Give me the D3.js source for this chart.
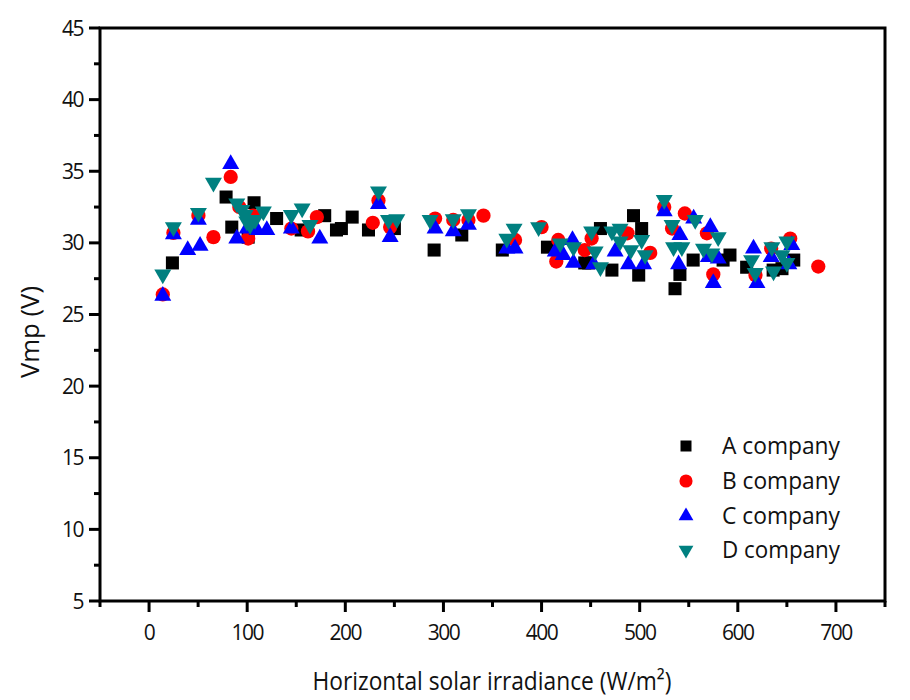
<!DOCTYPE html>
<html>
<head>
<meta charset="utf-8">
<script src="https://cdn.jsdelivr.net/npm/d3@7"></script>
<style>
  html, body { margin: 0; padding: 0; background: #fff; }
  svg text { font-family: "Open Sans", "DejaVu Sans", sans-serif; fill: #111; }
</style>
</head>
<body>
<svg id="chart" width="910" height="700"></svg>
<script>
// ---------- data ----------
const seriesNames = ["A company", "B company", "C company", "D company"];
const seriesColors = ["#000000", "#ff0000", "#0000ff", "#008080"];

const aX = [23.8, 78.5, 84.3, 101, 107, 130, 155, 179, 191, 196, 207, 223.6, 250, 290.5, 318.7, 360, 406, 444, 448, 460, 471.7, 493.7, 502, 499, 536, 541, 554.5, 585, 592, 609, 636, 645, 657];
const aY = [28.6, 33.2, 31.1, 30.4, 32.8, 31.7, 30.9, 31.9, 30.9, 31.0, 31.8, 30.9, 31.0, 29.5, 30.55, 29.5, 29.7, 28.6, 28.6, 31.0, 28.1, 31.9, 31.0, 27.75, 26.8, 27.8, 28.8, 28.8, 29.15, 28.3, 28.1, 28.2, 28.8];

const bX = [14, 24.8, 50.3, 65.6, 83.2, 92, 101, 106, 145, 162, 171, 228, 233.8, 245.7, 291.5, 310, 325.5, 340.8, 373, 400, 415, 417, 444, 451, 487.6, 510.7, 525, 533, 546, 568.5, 575, 618, 634, 653.4, 682];
const bY = [26.4, 30.7, 31.9, 30.4, 34.6, 32.5, 30.3, 31.9, 31.0, 30.8, 31.8, 31.4, 32.95, 31.1, 31.7, 31.6, 31.6, 31.9, 30.2, 31.1, 28.7, 30.2, 29.5, 30.3, 30.67, 29.3, 32.5, 31.0, 32.05, 30.67, 27.8, 27.75, 29.6, 30.3, 28.35];

const cX = [14, 24.8, 39.4, 50.3, 52, 83.2, 89.4, 100, 110, 120, 145, 174, 233.8, 245.7, 291.5, 310, 325.5, 364.6, 373, 414, 422, 431.5, 432.5, 453, 475, 488.6, 504, 525, 539.6, 541, 555, 570, 572, 575, 580, 616, 619.5, 634, 652, 655];
const cY = [26.3, 30.6, 29.5, 31.6, 29.8, 35.5, 30.3, 31.0, 30.9, 30.9, 31.0, 30.3, 32.7, 30.4, 31.0, 30.8, 31.25, 29.6, 29.6, 29.4, 29.15, 30.2, 28.6, 28.5, 29.4, 28.5, 28.5, 32.2, 28.5, 30.55, 31.7, 29.0, 31.1, 27.2, 28.9, 29.6, 27.2, 29.0, 28.5, 29.85];

const dX = [14, 24.8, 50.3, 65.6, 89.4, 94.5, 97.9, 99.6, 103, 108, 116.5, 145, 156, 164, 233.8, 244, 252.5, 286.4, 310, 325.5, 364.6, 372, 397, 419, 432.5, 451, 454.6, 460, 471.7, 480, 480, 491, 502, 505.6, 525, 533, 534.5, 543, 556.6, 565, 573.6, 580, 614, 617.7, 634.7, 636.4, 645, 650, 650];
const dY = [27.8, 31.1, 32.1, 34.2, 32.75, 32.3, 31.95, 31.5, 31.25, 31.6, 32.2, 31.95, 32.4, 31.25, 33.6, 31.6, 31.65, 31.6, 31.65, 32.0, 30.3, 31.0, 31.1, 29.97, 29.7, 30.8, 29.4, 28.3, 30.8, 31.0, 30.1, 29.5, 30.2, 29.15, 33.0, 31.25, 29.7, 29.7, 31.6, 29.6, 29.27, 30.4, 28.8, 27.9, 29.7, 28.0, 29.15, 30.1, 28.6];

const xTicks = [0, 100, 200, 300, 400, 500, 600, 700];
const yTicks = [5, 10, 15, 20, 25, 30, 35, 40, 45];
const xTitle = "Horizontal solar irradiance (W/m\u00B2)";
const yTitle = "Vmp (V)";

// ---------- layout ----------
const svg = d3.select("#chart");
const L = 100, R = 885, T = 28, B = 601;
const x = d3.scaleLinear().domain([-50, 750]).range([L, R]);
const y = d3.scaleLinear().domain([5, 45]).range([B, T]);

// frame
svg.append("rect").attr("x", L).attr("y", T).attr("width", R - L).attr("height", B - T)
  .attr("fill", "none").attr("stroke", "#000").attr("stroke-width", 3);

// x axis
const xMinor = d3.range(-50, 751, 100);
const gx = svg.append("g");
gx.selectAll("line.maj").data(xTicks).join("line")
  .attr("x1", d => x(d)).attr("x2", d => x(d)).attr("y1", B).attr("y2", B + 11)
  .attr("stroke", "#000").attr("stroke-width", 3);
gx.selectAll("line.min").data(xMinor).join("line")
  .attr("x1", d => x(d)).attr("x2", d => x(d)).attr("y1", B).attr("y2", B + 6)
  .attr("stroke", "#000").attr("stroke-width", 3);
gx.selectAll("text").data(xTicks).join("text")
  .attr("x", d => x(d)).attr("y", B + 39)
  .attr("text-anchor", "middle").attr("font-size", 21).attr("letter-spacing", -1.5)
  .text(d => d);

// y axis
const yMinor = d3.range(7.5, 45, 5);
const gy = svg.append("g");
gy.selectAll("line.maj").data(yTicks).join("line")
  .attr("x1", L - 11).attr("x2", L).attr("y1", d => y(d)).attr("y2", d => y(d))
  .attr("stroke", "#000").attr("stroke-width", 3);
gy.selectAll("line.min").data(yMinor).join("line")
  .attr("x1", L - 6).attr("x2", L).attr("y1", d => y(d)).attr("y2", d => y(d))
  .attr("stroke", "#000").attr("stroke-width", 3);
gy.selectAll("text").data(yTicks).join("text")
  .attr("x", L - 17).attr("y", d => y(d) + 7.5)
  .attr("text-anchor", "end").attr("font-size", 21).attr("letter-spacing", -1.5)
  .text(d => d);

// axis titles
svg.append("text").attr("x", 492).attr("y", 690)
  .attr("text-anchor", "middle").attr("font-size", 25)
  .attr("textLength", 359).attr("lengthAdjust", "spacingAndGlyphs")
  .text(xTitle);

svg.append("text").attr("transform", "translate(39,332) rotate(-90)")
  .attr("text-anchor", "middle").attr("font-size", 25)
  .attr("textLength", 92).attr("lengthAdjust", "spacingAndGlyphs")
  .text(yTitle);

// markers
const symSquare = d3.symbol().type(d3.symbolSquare).size(170);
const symCircle = d3.symbol().type(d3.symbolCircle).size(160);
const symTri = d3.symbol().type(d3.symbolTriangle).size(125);
const shapes = [
  {p: symSquare(), rot: 0},
  {p: symCircle(), rot: 0},
  {p: symTri(), rot: 0},
  {p: symTri(), rot: 180}
];
const allSeries = [[aX, aY], [bX, bY], [cX, cY], [dX, dY]];
allSeries.forEach(([xs, ys], i) => {
  const pts = xs.map((v, k) => [v, ys[k]]);
  svg.append("g").selectAll("path").data(pts).join("path")
    .attr("d", shapes[i].p)
    .attr("transform", d => `translate(${x(d[0])},${y(d[1])}) rotate(${shapes[i].rot})`)
    .attr("fill", seriesColors[i]);
});

// legend
const legY = [446, 481, 516, 550];
const legSyms = [
  d3.symbol().type(d3.symbolSquare).size(121)(),
  d3.symbol().type(d3.symbolCircle).size(135)(),
  d3.symbol().type(d3.symbolTriangle).size(95)(),
  d3.symbol().type(d3.symbolTriangle).size(95)()
];
const leg = svg.append("g");
seriesNames.forEach((name, i) => {
  leg.append("path").attr("d", legSyms[i])
    .attr("transform", `translate(686,${legY[i]}) rotate(${shapes[i].rot})`)
    .attr("fill", seriesColors[i]);
  leg.append("text").attr("x", 722).attr("y", legY[i] + 8)
    .attr("font-size", 23).attr("textLength", 118).attr("lengthAdjust", "spacingAndGlyphs")
    .text(name);
});
</script>
</body>
</html>
